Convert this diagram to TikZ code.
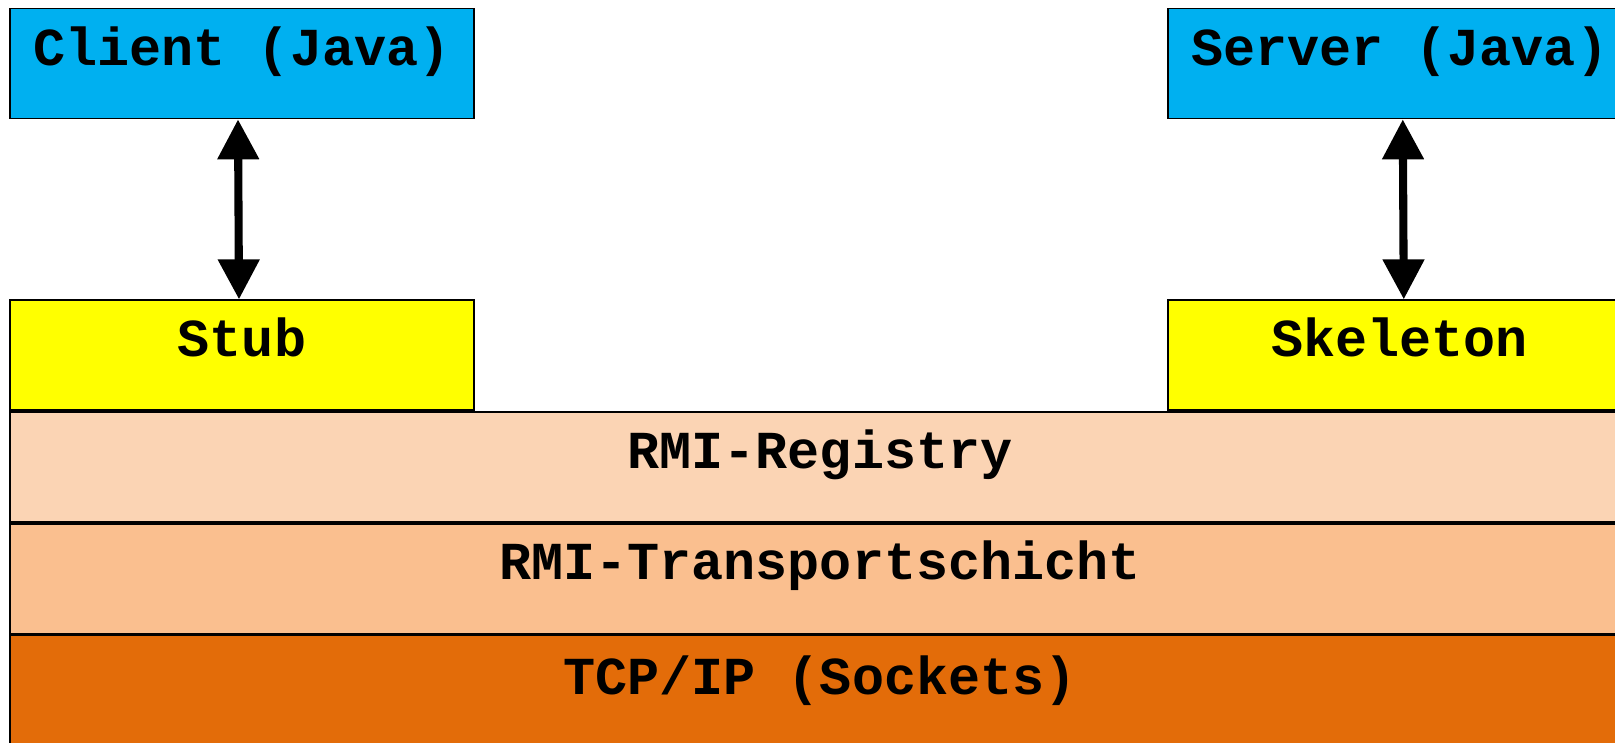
\documentclass[tikz,border=0pt]{standalone}
\usepackage{fontspec}
\setmonofont{Liberation Mono}
\usepackage{tikz}
\usepackage{xcolor}
\usetikzlibrary{positioning, arrows.meta}

\definecolor{javablue}{HTML}{00B0F0}
\definecolor{stubyellow}{HTML}{FFFF00}
\definecolor{regorange}{HTML}{FBD4B4}
\definecolor{transorange}{HTML}{FABF8F}
\definecolor{tcporange}{HTML}{E36C09}

\begin{document}
\begin{tikzpicture}[
  node distance=1.8cm and 6.92cm,
  box/.style={draw, line width=0.5pt, minimum width=4.64cm, minimum height=1.1cm, inner sep=0pt,
    font=\fontsize{15.2}{18}\selectfont\ttfamily\bfseries, text height=1.2ex, text depth=1.05ex},
  layer/.style={box, minimum width=16.2cm, minimum height=1.1cm},
  link/.style={line width=2.3pt, {Triangle[length=0.4cm, width=0.4cm]}-{Triangle[length=0.4cm, width=0.4cm]}}
]
\useasboundingbox (0,0) rectangle (16.15,-7.43);
\clip (0,0) rectangle (16.15,-7.43);

% Java side
\node[box, fill=javablue, text depth=0.9ex] (client) at (2.42,-0.635) {Client (Java)};
\node[box, fill=javablue, text depth=0.9ex, right=of client] (server) {Server (Java)};

% Proxies
\node[box, fill=stubyellow, below=of client] (stub) {Stub};
\node[box, fill=stubyellow, below=of server] (skeleton) {Skeleton};

% Layers
\node[layer, fill=regorange, anchor=north west] (registry) at (stub.south west) {RMI-Registry};
\node[layer, fill=transorange, below=0cm of registry] (transport) {RMI-Transportschicht};
\node[layer, fill=tcporange, below=0cm of transport, minimum height=1.16cm] (tcpip) {TCP/IP (Sockets)};

% Calls
\draw[link] ([xshift=-0.04cm]client.south) -- ([xshift=-0.03cm]stub.north);
\draw[link] ([xshift=0.03cm]server.south) -- ([xshift=0.04cm]skeleton.north);

\end{tikzpicture}
\end{document}
